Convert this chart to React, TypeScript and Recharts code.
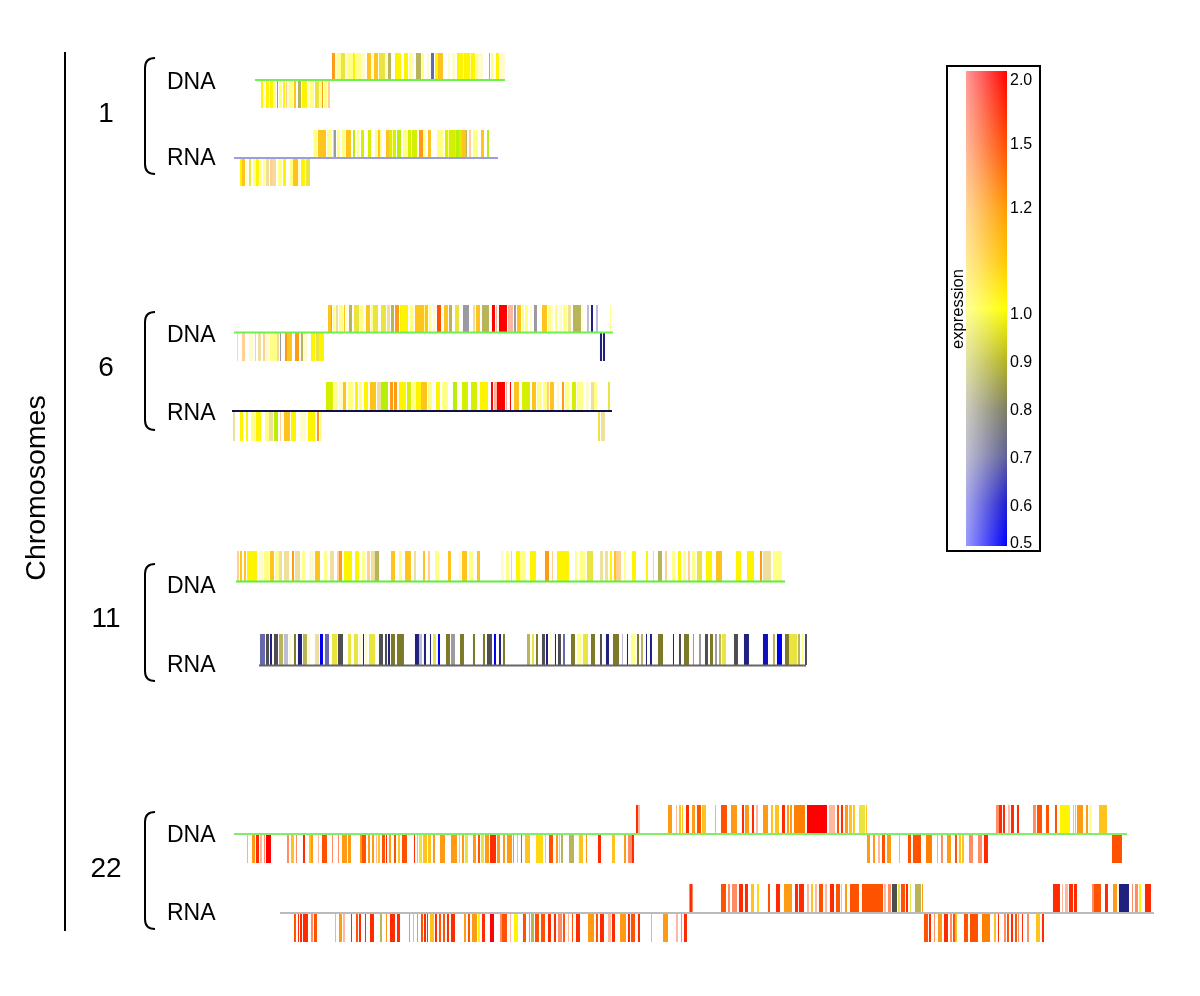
import React from 'react';
import { ComposedChart, Bar, Line, XAxis, YAxis } from 'recharts';

type Band = [number, number, string];

// expression level codes -> colour
const LEVEL_COLORS: Record<string, string> = {
  R: '#FF0000', X: '#FF2A00', r: '#FF5200', O: '#FF8000', o: '#FF9A14', g: '#FFC31E', G: '#FFD810',
  y: '#FFF400', c: '#EAE440', l: '#FFFF88', p: '#FFFBCC', t: '#EEDF9C', k: '#FFB8A0', s: '#FF8C64', u: '#FFD090',
  h: '#D4F000', v: '#B8EE08', i: '#B8B45A', e: '#7C7A28', d: '#4E4E50', a: '#9A9AA0', w: '#BCBCD8',
  m: '#6468AC', n: '#20207E', b: '#0000F0', B: '#1010B8',
};

const chr1DnaUp: Band[] = [[332,335,'o'],[335,337,'p'],[337,341,'l'],[341,345,'c'],[345,347,'p'],[347,353,'l'],[353,355,'y'],[356,361,'l'],[362,365,'p'],[367,371,'g'],[371,373,'p'],[374,378,'g'],[379,385,'c'],[385,387,'p'],[388,391,'i'],[395,401,'y'],[404,408,'y'],[409,412,'l'],[412,414,'p'],[416,421,'i'],[422,424,'l'],[427,429,'p'],[431,434,'m'],[435,438,'y'],[438,443,'g'],[448,450,'p'],[452,455,'p'],[457,463,'y'],[463,464,'l'],[464,470,'y'],[470,471,'l'],[471,475,'y'],[476,478,'l'],[478,483,'p'],[489,490,'o'],[491,493,'l'],[496,499,'y'],[500,505,'p']];
const chr1DnaDown: Band[] = [[261,263,'y'],[263,265,'p'],[266,269,'y'],[270,273,'y'],[273,276,'l'],[277,278,'a'],[279,282,'l'],[283,285,'y'],[286,287,'u'],[287,289,'p'],[289,293,'l'],[294,296,'g'],[298,301,'i'],[302,307,'y'],[308,309,'p'],[310,314,'l'],[315,319,'c'],[319,322,'l'],[322,323,'o'],[324,327,'l'],[328,330,'u']];
const chr1RnaUp: Band[] = [[313,314,'p'],[314,317,'l'],[318,320,'g'],[320,326,'g'],[327,329,'l'],[329,332,'l'],[333,334,'c'],[334,336,'a'],[337,340,'l'],[342,345,'l'],[346,351,'g'],[353,355,'v'],[357,359,'l'],[361,364,'h'],[368,371,'h'],[375,378,'l'],[378,380,'g'],[380,382,'l'],[386,389,'g'],[389,392,'h'],[392,393,'l'],[393,396,'h'],[397,401,'v'],[403,407,'l'],[408,411,'h'],[411,412,'l'],[412,417,'h'],[419,423,'o'],[423,425,'l'],[428,431,'g'],[437,443,'l'],[445,448,'h'],[448,449,'l'],[449,455,'h'],[455,456,'c'],[456,459,'v'],[459,462,'h'],[462,466,'g'],[466,467,'i'],[469,471,'u'],[473,478,'l'],[481,484,'g'],[487,489,'v']];
const chr1RnaDown: Band[] = [[240,242,'y'],[242,245,'g'],[246,247,'p'],[249,251,'c'],[253,256,'l'],[256,259,'y'],[260,262,'l'],[263,265,'l'],[266,269,'t'],[270,273,'u'],[273,276,'t'],[278,282,'l'],[283,286,'y'],[290,293,'l'],[293,298,'g'],[298,300,'p'],[301,305,'y'],[306,310,'c']];

const chr6DnaUp: Band[] = [[328,331,'g'],[331,332,'o'],[333,335,'l'],[336,338,'t'],[339,343,'l'],[344,345,'g'],[346,347,'p'],[349,352,'i'],[354,359,'c'],[360,363,'l'],[366,370,'g'],[371,373,'l'],[373,378,'c'],[381,386,'c'],[387,390,'t'],[391,394,'i'],[395,399,'o'],[400,408,'y'],[410,413,'l'],[415,420,'g'],[420,424,'g'],[424,425,'l'],[425,428,'g'],[429,431,'l'],[433,435,'p'],[437,441,'r'],[444,448,'g'],[449,452,'i'],[455,459,'c'],[463,469,'a'],[473,475,'t'],[476,480,'g'],[482,489,'i'],[492,495,'R'],[496,497,'k'],[499,507,'R'],[508,513,'k'],[514,516,'a'],[517,521,'g'],[522,524,'l'],[525,528,'l'],[530,532,'p'],[534,537,'a'],[542,547,'g'],[548,551,'l'],[551,553,'p'],[555,558,'l'],[559,562,'p'],[563,567,'l'],[568,571,'t'],[573,581,'i'],[582,583,'p'],[587,589,'w'],[591,593,'n'],[596,598,'w'],[610,611,'l']];
const chr6DnaDown: Band[] = [[237,238,'t'],[242,245,'u'],[249,253,'p'],[255,256,'u'],[258,261,'t'],[263,265,'u'],[265,269,'p'],[270,277,'l'],[277,279,'t'],[280,281,'a'],[285,287,'o'],[287,292,'g'],[295,299,'o'],[301,303,'i'],[303,307,'p'],[311,315,'y'],[316,319,'c'],[319,324,'y'],[600,602,'n'],[603,605,'n']];
const chr6RnaUp: Band[] = [[326,333,'h'],[334,338,'l'],[339,343,'p'],[343,346,'g'],[348,353,'l'],[355,358,'y'],[359,362,'l'],[364,368,'y'],[370,376,'g'],[377,381,'t'],[381,388,'v'],[390,393,'o'],[394,397,'o'],[399,406,'y'],[407,411,'h'],[412,415,'l'],[416,421,'y'],[421,427,'g'],[428,432,'l'],[433,434,'p'],[436,440,'y'],[442,448,'l'],[453,457,'v'],[462,468,'h'],[471,477,'h'],[480,488,'y'],[491,493,'R'],[494,497,'k'],[497,505,'R'],[506,507,'k'],[510,511,'R'],[514,519,'g'],[522,530,'h'],[532,536,'g'],[537,542,'l'],[543,547,'l'],[547,549,'u'],[550,554,'g'],[557,559,'p'],[562,564,'o'],[565,569,'l'],[572,576,'h'],[577,583,'l'],[586,589,'p'],[591,594,'t'],[594,597,'l'],[608,610,'c']];
const chr6RnaDown: Band[] = [[233,235,'t'],[240,243,'y'],[246,248,'y'],[251,255,'l'],[256,261,'y'],[265,269,'l'],[269,273,'t'],[274,278,'v'],[280,281,'u'],[284,290,'g'],[291,296,'y'],[300,306,'p'],[308,315,'y'],[317,319,'o'],[320,322,'l'],[598,600,'c'],[601,605,'t']];

const chr11Dna: Band[] = [[237,239,'u'],[240,242,'g'],[244,246,'g'],[247,257,'y'],[259,263,'p'],[264,269,'l'],[270,274,'g'],[275,279,'l'],[279,282,'t'],[284,289,'t'],[292,294,'o'],[295,300,'t'],[302,305,'l'],[309,314,'p'],[315,320,'g'],[324,327,'l'],[330,334,'t'],[337,339,'u'],[339,342,'o'],[344,352,'y'],[355,359,'y'],[362,365,'l'],[367,370,'u'],[371,375,'t'],[375,379,'i'],[391,395,'g'],[399,402,'l'],[405,411,'g'],[414,416,'t'],[423,425,'g'],[428,430,'u'],[435,439,'l'],[448,451,'g'],[459,461,'p'],[462,467,'g'],[469,473,'l'],[477,480,'g'],[501,504,'p'],[506,509,'l'],[511,512,'u'],[516,520,'y'],[520,526,'l'],[530,536,'y'],[545,549,'o'],[552,553,'u'],[557,569,'y'],[575,577,'l'],[580,585,'l'],[587,593,'c'],[600,603,'t'],[605,608,'t'],[610,612,'y'],[614,616,'g'],[616,621,'u'],[624,626,'l'],[632,636,'y'],[646,648,'y'],[653,654,'u'],[658,662,'i'],[665,667,'u'],[672,675,'l'],[678,681,'y'],[683,686,'l'],[688,690,'u'],[692,695,'l'],[697,702,'c'],[706,712,'y'],[716,722,'g'],[736,741,'y'],[747,754,'y'],[760,762,'o'],[763,771,'t'],[773,782,'l']];
const chr11Rna: Band[] = [[260,265,'m'],[266,269,'d'],[270,272,'n'],[274,278,'d'],[279,283,'i'],[284,288,'w'],[289,291,'p'],[294,296,'e'],[298,302,'n'],[303,307,'i'],[307,310,'p'],[315,319,'t'],[320,323,'b'],[325,329,'m'],[332,337,'c'],[338,343,'d'],[348,351,'c'],[354,358,'c'],[359,361,'p'],[363,364,'n'],[365,367,'p'],[369,375,'c'],[379,383,'d'],[385,387,'d'],[388,390,'n'],[391,395,'e'],[397,404,'e'],[415,419,'n'],[419,422,'w'],[424,426,'n'],[430,431,'n'],[433,436,'c'],[438,440,'b'],[446,450,'e'],[451,455,'a'],[460,464,'e'],[473,475,'e'],[483,485,'e'],[487,492,'d'],[494,496,'b'],[499,501,'n'],[503,505,'e'],[527,530,'i'],[532,534,'c'],[536,538,'e'],[542,545,'d'],[546,548,'n'],[550,551,'p'],[555,556,'n'],[558,561,'d'],[563,565,'m'],[571,575,'e'],[577,581,'l'],[583,588,'c'],[591,595,'e'],[600,602,'d'],[606,609,'n'],[613,619,'e'],[622,623,'w'],[627,628,'n'],[631,635,'l'],[637,639,'e'],[641,643,'i'],[646,647,'n'],[650,652,'n'],[658,663,'e'],[673,674,'n'],[679,681,'d'],[684,689,'e'],[693,694,'a'],[699,701,'a'],[705,708,'d'],[710,713,'e'],[715,717,'a'],[719,721,'i'],[722,726,'c'],[734,738,'d'],[744,749,'n'],[763,768,'B'],[773,775,'i'],[777,782,'b'],[785,789,'e'],[789,797,'c'],[798,800,'i'],[802,803,'l'],[805,807,'d']];

const chr22DnaUp: Band[] = [[636,638,'X'],[638,640,'k'],[668,672,'o'],[676,677,'k'],[679,681,'g'],[682,683,'g'],[686,689,'X'],[692,695,'o'],[697,701,'r'],[702,706,'g'],[715,716,'g'],[721,727,'r'],[731,737,'o'],[742,744,'X'],[745,749,'o'],[752,754,'X'],[756,758,'k'],[763,768,'o'],[771,773,'g'],[775,779,'g'],[782,785,'X'],[787,789,'o'],[790,792,'o'],[794,805,'O'],[807,827,'R'],[829,835,'k'],[837,839,'r'],[841,843,'X'],[845,848,'o'],[849,852,'g'],[853,855,'g'],[859,865,'c'],[866,867,'g'],[996,999,'s'],[999,1002,'X'],[1003,1005,'X'],[1008,1010,'k'],[1011,1014,'X'],[1017,1019,'X'],[1033,1036,'s'],[1037,1042,'r'],[1046,1049,'r'],[1055,1057,'r'],[1060,1070,'y'],[1073,1074,'k'],[1075,1076,'g'],[1077,1083,'o'],[1086,1088,'o'],[1089,1092,'l'],[1099,1107,'g']];
const chr22DnaDown: Band[] = [[247,248,'g'],[252,255,'o'],[256,259,'X'],[260,262,'k'],[264,265,'s'],[266,271,'R'],[287,289,'s'],[291,294,'g'],[296,297,'s'],[303,305,'X'],[309,311,'g'],[311,313,'o'],[318,319,'k'],[322,327,'r'],[332,333,'s'],[338,339,'s'],[342,347,'o'],[348,351,'o'],[360,362,'o'],[362,366,'r'],[368,370,'o'],[372,374,'o'],[376,377,'k'],[378,380,'g'],[382,385,'r'],[386,387,'X'],[389,391,'o'],[394,396,'r'],[398,400,'g'],[402,407,'r'],[414,415,'X'],[417,418,'g'],[419,422,'c'],[423,427,'g'],[428,431,'g'],[433,435,'o'],[440,445,'o'],[451,457,'o'],[459,460,'k'],[462,464,'o'],[465,468,'c'],[473,476,'o'],[478,480,'r'],[481,484,'c'],[485,489,'o'],[490,496,'X'],[497,500,'o'],[503,505,'o'],[507,512,'o'],[513,514,'s'],[517,518,'k'],[521,522,'r'],[525,530,'g'],[536,543,'G'],[545,546,'k'],[549,553,'r'],[556,558,'o'],[559,560,'k'],[561,563,'i'],[569,574,'i'],[578,579,'p'],[579,583,'g'],[586,587,'o'],[598,601,'X'],[612,615,'g'],[624,626,'o'],[628,632,'s'],[632,634,'X'],[867,870,'o'],[873,875,'o'],[878,880,'k'],[882,885,'r'],[887,891,'o'],[899,900,'g'],[908,911,'r'],[913,921,'r'],[926,932,'O'],[937,938,'g'],[941,943,'s'],[947,949,'o'],[949,951,'o'],[955,957,'r'],[959,961,'g'],[962,964,'g'],[969,973,'s'],[978,982,'s'],[984,988,'X'],[1112,1122,'r']];
const chr22RnaUp: Band[] = [[689,690,'o'],[690,692,'X'],[692,693,'s'],[721,726,'r'],[728,730,'s'],[732,737,'s'],[739,743,'X'],[745,748,'X'],[751,754,'g'],[757,759,'G'],[768,770,'r'],[776,780,'X'],[784,792,'o'],[795,798,'X'],[799,804,'X'],[807,809,'k'],[811,813,'g'],[815,817,'k'],[819,823,'r'],[825,827,'k'],[830,834,'X'],[836,840,'r'],[841,842,'k'],[845,847,'o'],[850,859,'r'],[862,883,'r'],[884,886,'k'],[888,891,'s'],[892,897,'d'],[898,900,'c'],[901,905,'r'],[906,908,'X'],[910,911,'c'],[915,921,'i'],[922,923,'o'],[1053,1060,'X'],[1062,1063,'k'],[1065,1068,'k'],[1069,1073,'X'],[1074,1077,'X'],[1092,1094,'s'],[1094,1101,'r'],[1105,1108,'X'],[1113,1117,'o'],[1119,1129,'n'],[1132,1133,'s'],[1135,1138,'s'],[1139,1141,'y'],[1145,1151,'X']];
const chr22RnaDown: Band[] = [[294,296,'r'],[298,299,'X'],[300,302,'X'],[303,308,'X'],[311,313,'s'],[314,317,'r'],[335,336,'g'],[339,342,'o'],[343,345,'k'],[351,352,'X'],[356,358,'r'],[359,361,'X'],[365,366,'X'],[370,374,'X'],[380,382,'i'],[386,387,'o'],[390,395,'X'],[397,400,'X'],[409,410,'o'],[413,414,'g'],[417,418,'i'],[421,423,'r'],[424,426,'X'],[427,428,'X'],[430,434,'g'],[435,437,'X'],[439,441,'r'],[443,445,'r'],[447,449,'X'],[451,455,'X'],[464,466,'o'],[468,470,'r'],[472,477,'o'],[478,480,'y'],[482,485,'X'],[490,494,'R'],[500,502,'s'],[502,507,'r'],[510,511,'k'],[514,518,'y'],[523,526,'r'],[529,530,'s'],[531,534,'i'],[535,539,'r'],[541,545,'r'],[548,551,'X'],[554,556,'X'],[558,562,'s'],[563,565,'r'],[568,569,'k'],[572,573,'r'],[576,580,'X'],[588,594,'o'],[596,598,'r'],[600,604,'X'],[608,611,'k'],[612,615,'X'],[620,626,'o'],[628,630,'X'],[631,635,'r'],[638,640,'X'],[651,652,'g'],[663,668,'o'],[676,678,'k'],[681,682,'s'],[684,687,'X'],[924,928,'r'],[929,931,'X'],[934,935,'s'],[938,942,'o'],[944,948,'X'],[950,952,'s'],[953,955,'r'],[955,957,'g'],[964,968,'r'],[970,978,'r'],[982,990,'O'],[994,996,'g'],[998,999,'X'],[1004,1006,'s'],[1007,1009,'r'],[1011,1013,'X'],[1015,1017,'r'],[1018,1019,'s'],[1022,1023,'X'],[1027,1029,'s'],[1036,1040,'g'],[1042,1044,'X']];

const chromosomes = ['1', '6', '11', '22'];
const colorbarTicks = ['2.0', '1.5', '1.2', '1.0', '0.9', '0.8', '0.7', '0.6', '0.5'];

// rows on the page
const tracks = [
  { bands: chr1DnaUp, top: 53, bottom: 80 },
  { bands: chr1DnaDown, top: 81, bottom: 108 },
  { bands: chr1RnaUp, top: 130, bottom: 158 },
  { bands: chr1RnaDown, top: 159, bottom: 186 },
  { bands: chr6DnaUp, top: 305, bottom: 333 },
  { bands: chr6DnaDown, top: 333, bottom: 361 },
  { bands: chr6RnaUp, top: 382, bottom: 411 },
  { bands: chr6RnaDown, top: 412, bottom: 441 },
  { bands: chr11Dna, top: 551, bottom: 581 },
  { bands: chr11Rna, top: 634, bottom: 665 },
  { bands: chr22DnaUp, top: 805, bottom: 834 },
  { bands: chr22DnaDown, top: 834, bottom: 863 },
  { bands: chr22RnaUp, top: 884, bottom: 913 },
  { bands: chr22RnaDown, top: 914, bottom: 942 },
];

const baselines = [
  { from: 255, to: 505, y: 80, color: '#6FF04F' },
  { from: 234, to: 498, y: 158, color: '#9C9CE0' },
  { from: 234, to: 613, y: 332.5, color: '#6FF04F' },
  { from: 232, to: 612, y: 411, color: '#10104A' },
  { from: 236, to: 785, y: 581.5, color: '#5CEE3C' },
  { from: 259, to: 806, y: 665.5, color: '#666666' },
  { from: 234, to: 1127, y: 834, color: '#80EE66' },
  { from: 280, to: 1154, y: 913, color: '#BBBBBB' },
];

const rows = tracks.flatMap((t) =>
  t.bands.map(([a, b, level]) => ({
    x: (a + b) / 2,
    span: [t.top, t.bottom],
    size: b - a,
    fill: LEVEL_COLORS[level],
  }))
);

const FONT = '"Liberation Sans", Arial, sans-serif';

const groupLayout = [
  { numY: 122, dnaY: 89, rnaY: 165, top: 58, bottom: 174 },
  { numY: 376, dnaY: 342, rnaY: 420, top: 312, bottom: 430 },
  { numY: 627, dnaY: 593, rnaY: 672, top: 564, bottom: 681 },
  { numY: 877, dnaY: 842, rnaY: 920, top: 812, bottom: 929 },
];
const tickY = [79, 143, 207, 313, 361, 409, 457, 505, 542];

// thin band drawn to the run's own width, centred on the scaled x
const BandShape = (props: any) => {
  const { x, y, width, height, payload } = props;
  const w = payload.size;
  return (
    <rect
      x={x + width / 2 - w / 2}
      y={Math.min(y, y + height)}
      width={w}
      height={Math.abs(height)}
      fill={payload.fill}
    />
  );
};

const App = () => (
  <div
    style={{
      position: 'absolute',
      left: 0,
      top: 0,
      width: 1200,
      height: 996,
      background: '#fff',
      filter: 'blur(0.4px)',
    }}
  >
    <ComposedChart
      width={1200}
      height={996}
      data={rows}
      margin={{ top: 0, right: 0, bottom: 0, left: 0 }}
    >
      <XAxis dataKey="x" type="number" domain={[0, 1200]} hide />
      <YAxis type="number" domain={[0, 996]} reversed hide width={0} />
      <Bar dataKey="span" barSize={1} shape={BandShape} isAnimationActive={false} />
      {baselines.map((b, i) => (
        <Line
          key={i}
          data={[{ x: b.from, base: b.y }, { x: b.to, base: b.y }]}
          dataKey="base"
          stroke={b.color}
          strokeWidth={2}
          dot={false}
          isAnimationActive={false}
        />
      ))}
    </ComposedChart>
    <svg
      width={1200}
      height={996}
      style={{ position: 'absolute', left: 0, top: 0, pointerEvents: 'none' }}
      fontFamily={FONT}
    >
      <defs>
        <linearGradient id="expr" x1="0" y1="0" x2="0" y2="1">
          <stop offset="0" stopColor="#FF0000" />
          <stop offset="0.153" stopColor="#FF4C00" />
          <stop offset="0.288" stopColor="#FF9900" />
          <stop offset="0.4" stopColor="#FFC800" />
          <stop offset="0.5" stopColor="#FFFF00" />
          <stop offset="0.61" stopColor="#B4B420" />
          <stop offset="0.71" stopColor="#7E7E60" />
          <stop offset="0.81" stopColor="#606098" />
          <stop offset="0.91" stopColor="#2020D0" />
          <stop offset="1" stopColor="#0000FF" />
        </linearGradient>
        <linearGradient id="fade" x1="0" y1="0" x2="1" y2="0">
          <stop offset="0" stopColor="#FFFFFF" stopOpacity="0.6" />
          <stop offset="1" stopColor="#FFFFFF" stopOpacity="0" />
        </linearGradient>
      </defs>

      <line x1={65} y1={52} x2={65} y2={931} stroke="#000" strokeWidth={2} />
      <text
        transform="translate(45,488) rotate(-90)"
        textAnchor="middle"
        fontSize={28.5}
        fill="#000"
      >
        Chromosomes
      </text>

      {chromosomes.map((name, i) => {
        const g = groupLayout[i];
        return (
          <g key={name}>
            <text x={106} y={g.numY} textAnchor="middle" fontSize={28} fill="#000">{name}</text>
            <path
              d={`M155 ${g.top} Q145 ${g.top} 145 ${g.top + 10} L145 ${g.bottom - 10} Q145 ${g.bottom} 155 ${g.bottom}`}
              fill="none"
              stroke="#000"
              strokeWidth={2}
            />
            <text x={167} y={g.dnaY} fontSize={23} fill="#000">DNA</text>
            <text x={167} y={g.rnaY} fontSize={23} fill="#000">RNA</text>
          </g>
        );
      })}

      <rect x={947} y={66} width={93} height={485} fill="#fff" stroke="#000" strokeWidth={2} />
      <rect x={966} y={71} width={41} height={475} fill="url(#expr)" />
      <rect x={966} y={71} width={41} height={475} fill="url(#fade)" />
      {colorbarTicks.map((t, i) => (
        <text key={t} x={1010} y={tickY[i] + 5.5} fontSize={16} fill="#000">{t}</text>
      ))}
      <text transform="translate(963,309) rotate(-90)" textAnchor="middle" fontSize={16.5} fill="#000">
        expression
      </text>
    </svg>
  </div>
);

export default App;
